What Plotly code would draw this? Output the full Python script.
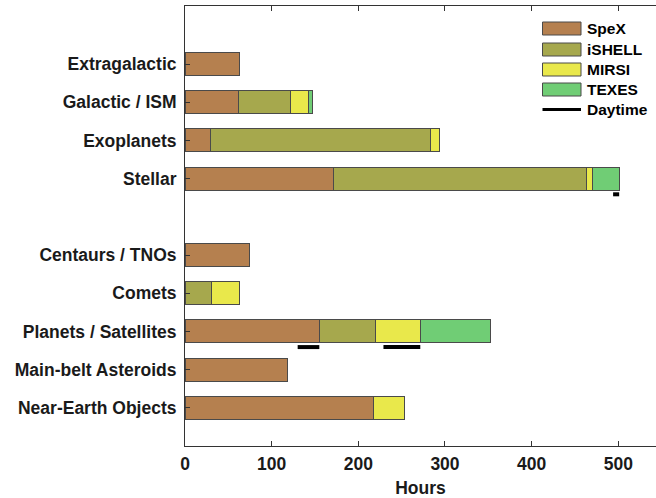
import plotly.graph_objects as go

# ---------------- data ----------------
categories = ["Near-Earth Objects", "Main-belt Asteroids", "Planets / Satellites",
              "Comets", "Centaurs / TNOs",
              "Stellar", "Exoplanets", "Galactic / ISM", "Extragalactic"]
instruments = ["SpeX", "iSHELL", "MIRSI", "TEXES"]
spex_hours   = [218, 118.5, 155, 0, 74, 171, 29, 62, 63]
ishell_hours = [0, 0, 65, 31, 0, 292, 254.5, 59.5, 0]
mirsi_hours  = [35, 0, 51.5, 32, 0, 7, 10.5, 21, 0]
texes_hours  = [0, 0, 81, 0, 0, 31, 0, 4.5, 0]
# daytime observing spans: (category, start hour, end hour)
daytime_spans = [("Planets / Satellites", 130, 155),
                 ("Planets / Satellites", 229, 271.5),
                 ("Stellar", 494, 501)]
x_ticks = [0, 100, 200, 300, 400, 500]

# ---------------- layout helpers ----------------
solar_system_count = 5  # first 5 categories form the lower group; a gap follows
y_pos = [i + 1 if i < solar_system_count else i + 2 for i in range(len(categories))]
pos_of = dict(zip(categories, y_pos))

colors = {"SpeX": "#B5804F", "iSHELL": "#A6A84D", "MIRSI": "#E9E84B", "TEXES": "#70CD75"}
edge = "#4a4a4a"
series = {"SpeX": spex_hours, "iSHELL": ishell_hours, "MIRSI": mirsi_hours, "TEXES": texes_hours}

fig = go.Figure()
for inst in instruments:
    vals = [v if v > 0 else None for v in series[inst]]
    fig.add_trace(go.Bar(
        y=y_pos, x=vals, orientation="h", name=inst, width=0.6,
        marker=dict(color=colors[inst], line=dict(color=edge, width=1)),
        showlegend=False,
    ))

dx, dy = [], []
for cat, s, e in daytime_spans:
    dx += [s, e, None]
    dy += [pos_of[cat] - 0.41, pos_of[cat] - 0.41, None]
fig.add_trace(go.Scatter(x=dx, y=dy, mode="lines", name="Daytime",
                         line=dict(color="black", width=4), showlegend=False))

# ---------------- figure geometry ----------------
W, H = 656, 498
ml, mr, mt, mb = 185, 0, 6, 52
pw, ph = W - ml - mr, H - mt - mb

def px_x(px):
    return (px - ml) / pw

def px_y(py):
    return (H - mb - py) / ph

font_family = "Liberation Sans, Arial, sans-serif"

# manual legend
shapes = []
annotations = []
leg_rows = [28.5, 49.5, 69.5, 89.5, 109.5]
for inst, yc in zip(instruments, leg_rows[:4]):
    shapes.append(dict(type="rect", xref="paper", yref="paper",
                       x0=px_x(542.5), x1=px_x(581), y0=px_y(yc + 6.5), y1=px_y(yc - 6.5),
                       fillcolor=colors[inst], line=dict(color=edge, width=1)))
    annotations.append(dict(xref="paper", yref="paper", x=px_x(585), y=px_y(yc),
                            xanchor="left", yanchor="middle", showarrow=False,
                            text=inst, font=dict(size=15.5, family=font_family, color="black", weight="bold")))
shapes.append(dict(type="line", xref="paper", yref="paper",
                   x0=px_x(542.5), x1=px_x(581), y0=px_y(leg_rows[4]), y1=px_y(leg_rows[4]),
                   line=dict(color="black", width=3)))
annotations.append(dict(xref="paper", yref="paper", x=px_x(585), y=px_y(leg_rows[4]),
                        xanchor="left", yanchor="middle", showarrow=False,
                        text="Daytime", font=dict(size=15.5, family=font_family, color="black", weight="bold")))

fig.update_layout(
    width=W, height=H,
    margin=dict(l=ml, r=mr, t=mt, b=mb, pad=0, autoexpand=False),
    barmode="stack",
    plot_bgcolor="white", paper_bgcolor="white",
    font=dict(family=font_family, size=17.5, color="#1a1a1a"),
    shapes=shapes, annotations=annotations,
    xaxis=dict(range=[0, 543.5], tickvals=x_ticks, ticks="inside", ticklen=5,
               tickcolor="#333", showline=True, linecolor="#333", linewidth=1,
               mirror="ticks", showgrid=False, zeroline=False, automargin=False,
               tickfont=dict(size=17.5, weight="bold"), ticklabelstandoff=2,
               title=dict(text="Hours", font=dict(size=17.5, weight="bold"), standoff=8)),
    yaxis=dict(range=[0, 11.52], tickvals=y_pos, ticktext=categories,
               ticks="inside", ticklen=5, tickcolor="#333", automargin=False,
               showline=True, linecolor="#333", linewidth=1,
               showgrid=False, zeroline=False,
               tickfont=dict(size=17.5, weight="bold"), ticklabelstandoff=4),
)

fig.write_html("out.html", config={"displayModeBar": False},
               post_script="document.body.style.margin='0';document.body.style.overflow='hidden';")
